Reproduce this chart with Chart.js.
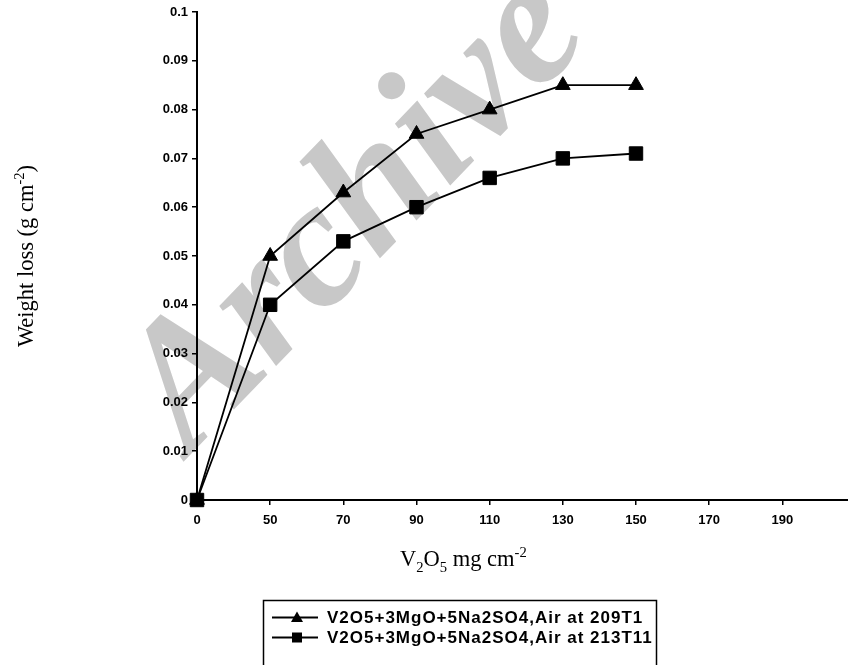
<!DOCTYPE html>
<html>
<head>
<meta charset="utf-8">
<script src="https://cdn.jsdelivr.net/npm/chart.js@4.4.0/dist/chart.umd.min.js"></script>
<style>
  html, body { margin: 0; padding: 0; background: #fff; overflow: hidden; }
  #wrap { width: 848px; height: 665px; overflow: hidden; }
  #grafico { display: block; }
</style>
</head>
<body>
<div id="wrap"><canvas id="grafico" width="866" height="665"></canvas></div>
<script>
// categorias del eje x (la ultima queda sin etiqueta, el eje sigue hasta el borde)
const categorias = ["0", "50", "70", "90", "110", "130", "150", "170", "190", ""];
const perdida209 = [0, 0.05, 0.063, 0.075, 0.08, 0.085, 0.085];
const perdida213 = [0, 0.04, 0.053, 0.06, 0.066, 0.07, 0.071];
const nombres = ["V2O5+3MgO+5Na2SO4,Air at 209T1", "V2O5+3MgO+5Na2SO4,Air at 213T11"];
const yTicks = ["0", "0.01", "0.02", "0.03", "0.04", "0.05", "0.06", "0.07", "0.08", "0.09", "0.1"];

const SANS = '"Liberation Sans", Arial, sans-serif';
const SERIF = '"Liberation Serif", "Times New Roman", serif';
const TAM_TITULO = 22.5;

// texto con subindices / superindices
function anchoRico(ctx, partes, size) {
    let w = 0;
    partes.forEach(p => {
        ctx.font = (p[1] ? size * 0.65 : size) + "px " + SERIF;
        w += ctx.measureText(p[0]).width;
    });
    return w;
}
function textoRico(ctx, partes, x, y, size) {
    partes.forEach(p => {
        ctx.font = (p[1] ? size * 0.65 : size) + "px " + SERIF;
        let dy = p[1] === "sub" ? size * 0.25 : p[1] === "sup" ? -size * 0.38 : 0;
        ctx.fillText(p[0], x, y + dy);
        x += ctx.measureText(p[0]).width;
    });
}

const marcaAgua = {
    id: "marcaAgua",
    beforeDraw(chart) {
        const ctx = chart.ctx;
        ctx.save();
        ctx.fillStyle = "#c8c8c8";
        ctx.font = "italic bold 180px " + SERIF;
        ctx.translate(190, 455);
        ctx.rotate(-46 * Math.PI / 180);
        ctx.textBaseline = "alphabetic";
        ctx.fillText("Archive", 0, 0);
        ctx.restore();
    }
};

const extras = {
    id: "extras",
    afterDraw(chart) {
        const ctx = chart.ctx;
        const area = chart.chartArea;
        ctx.save();
        ctx.fillStyle = "#000";
        ctx.textBaseline = "alphabetic";

        // titulo eje x
        const tx = [["V"], ["2", "sub"], ["O"], ["5", "sub"], [" mg cm"], ["-2", "sup"]];
        textoRico(ctx, tx, area.left + 203, 566, TAM_TITULO);

        // titulo eje y
        const ty = [["Weight loss (g cm"], ["-2", "sup"], [")"]];
        const w = anchoRico(ctx, ty, TAM_TITULO);
        ctx.save();
        ctx.translate(33, 256);
        ctx.rotate(-Math.PI / 2);
        textoRico(ctx, ty, -w / 2, 0, TAM_TITULO);
        ctx.restore();

        // leyenda
        ctx.strokeStyle = "#000";
        ctx.lineWidth = 1.5;
        ctx.strokeRect(263.5, 600.5, 393, 80);
        ctx.font = "bold 17px " + SANS;
        ctx.letterSpacing = "1px";
        ctx.textBaseline = "middle";
        [617.5, 637.5].forEach((y, i) => {
            ctx.lineWidth = 1.8;
            ctx.beginPath();
            ctx.moveTo(272, y);
            ctx.lineTo(318, y);
            ctx.stroke();
            ctx.beginPath();
            if (i === 0) {
                ctx.moveTo(297, y - 6);
                ctx.lineTo(303, y + 4.5);
                ctx.lineTo(291, y + 4.5);
                ctx.closePath();
            } else {
                ctx.rect(292, y - 5, 10, 10);
            }
            ctx.fill();
            ctx.fillText(nombres[i], 327, y + 1);
        });
        ctx.restore();
    }
};

new Chart(document.getElementById("grafico"), {
    type: "line",
    data: {
        labels: categorias,
        datasets: [
            {
                label: nombres[0],
                data: perdida209,
                borderColor: "#000",
                backgroundColor: "#000",
                borderWidth: 1.8,
                pointStyle: "triangle",
                pointRadius: 8.5,
                pointBorderWidth: 1,
                tension: 0,
                clip: false
            },
            {
                label: nombres[1],
                data: perdida213,
                borderColor: "#000",
                backgroundColor: "#000",
                borderWidth: 1.8,
                pointStyle: "rect",
                pointRadius: 9.5,
                pointBorderWidth: 1,
                tension: 0,
                clip: false
            }
        ]
    },
    options: {
        responsive: false,
        animation: false,
        layout: { padding: { top: 12, right: 4, left: 0, bottom: 0 } },
        plugins: {
            legend: { display: false },
            tooltip: { enabled: false }
        },
        scales: {
            x: {
                type: "category",
                offset: false,
                grid: { display: true, drawOnChartArea: false, drawTicks: true, tickLength: 5, color: "#000", lineWidth: 1.5 },
                border: { display: true, color: "#000", width: 2 },
                ticks: { color: "#000", font: { family: SANS, weight: "bold", size: 13 }, padding: 8, maxRotation: 0, autoSkip: false },
                afterFit: s => { s.height = 165; }
            },
            y: {
                min: 0,
                max: 0.1,
                grid: { display: true, drawOnChartArea: false, drawTicks: true, tickLength: 5, color: "#000", lineWidth: 1.5 },
                border: { display: true, color: "#000", width: 2 },
                ticks: {
                    stepSize: 0.01,
                    color: "#000",
                    font: { family: SANS, weight: "bold", size: 13 },
                    padding: 4,
                    callback: (v, i) => yTicks[i]
                },
                afterFit: s => { s.width = 197; }
            }
        }
    },
    plugins: [marcaAgua, extras]
});
</script>
</body>
</html>
